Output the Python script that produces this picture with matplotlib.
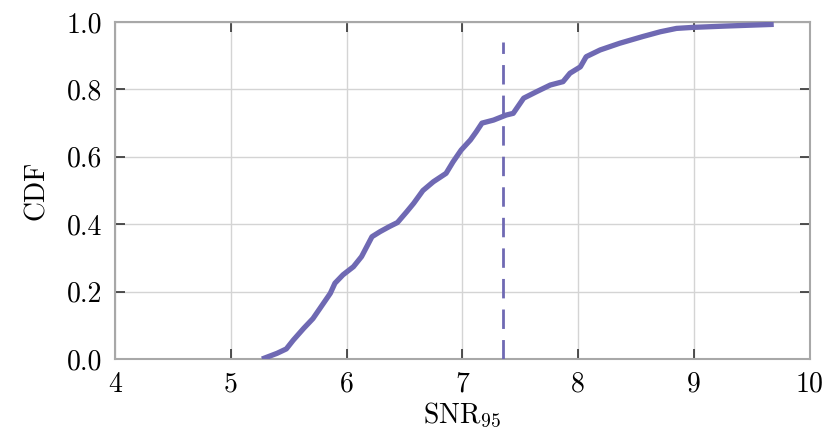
import matplotlib
matplotlib.use("Agg")
import matplotlib.pyplot as plt

# CDF curve
snr = [5.27, 5.40, 5.48, 5.54, 5.63, 5.71, 5.80, 5.86, 5.90, 5.97, 6.06, 6.13,
       6.22, 6.29, 6.37, 6.44, 6.52, 6.58, 6.66, 6.75, 6.86, 6.92, 6.99, 7.07,
       7.12, 7.17, 7.27, 7.38, 7.44, 7.53, 7.64, 7.76, 7.87, 7.93, 8.02, 8.07,
       8.19, 8.36, 8.56, 8.71, 8.85, 8.99, 9.28, 9.69]
cdf = [0.00, 0.017, 0.03, 0.056, 0.091, 0.12, 0.165, 0.195, 0.225, 0.25, 0.274, 0.304,
       0.363, 0.378, 0.393, 0.405, 0.437, 0.462, 0.50, 0.526, 0.551, 0.585, 0.62, 0.65,
       0.674, 0.70, 0.709, 0.724, 0.729, 0.774, 0.793, 0.813, 0.823, 0.848, 0.867, 0.897,
       0.917, 0.937, 0.957, 0.971, 0.981, 0.984, 0.988, 0.993]
threshold = 7.35
threshold_top = 0.94

xticks = [4, 5, 6, 7, 8, 9, 10]
yticks = [0.0, 0.2, 0.4, 0.6, 0.8, 1.0]

plt.rcParams['font.family'] = ['cmr10', 'DejaVu Serif']
plt.rcParams['mathtext.fontset'] = 'cm'
plt.rcParams['axes.formatter.use_mathtext'] = True

color = '#6f69b3'

fig = plt.figure(figsize=(8.27, 4.40), dpi=100)
ax = fig.add_axes([0.139, 0.184, 0.840, 0.766])

ax.plot(snr, cdf, color=color, lw=3.8, solid_capstyle='butt', zorder=3)
ax.plot([threshold, threshold], [0, threshold_top], color=color, lw=2.0,
        dashes=(7, 4), zorder=3)

ax.set_xlim(4, 10)
ax.set_ylim(0, 1)
ax.set_xticks(xticks)
ax.set_yticks(yticks)
ax.set_xticklabels([str(t) for t in xticks])
ax.set_yticklabels([f"{t:.1f}" for t in yticks])

ax.grid(True, color='#d4d4d4', lw=1.0, zorder=0)
ax.set_axisbelow(True)
for s in ax.spines.values():
    s.set_color('#a8a8a8')
    s.set_linewidth(1.5)

ax.tick_params(direction='in', length=7, width=1.2, color='#333333',
               top=True, right=True, labelsize=20, pad=9)

ax.set_xlabel(r'$\mathrm{SNR}_{95}$', fontsize=20, labelpad=2)
ax.set_ylabel('CDF', fontsize=20, labelpad=12)

fig.savefig('out.png', dpi=100)
